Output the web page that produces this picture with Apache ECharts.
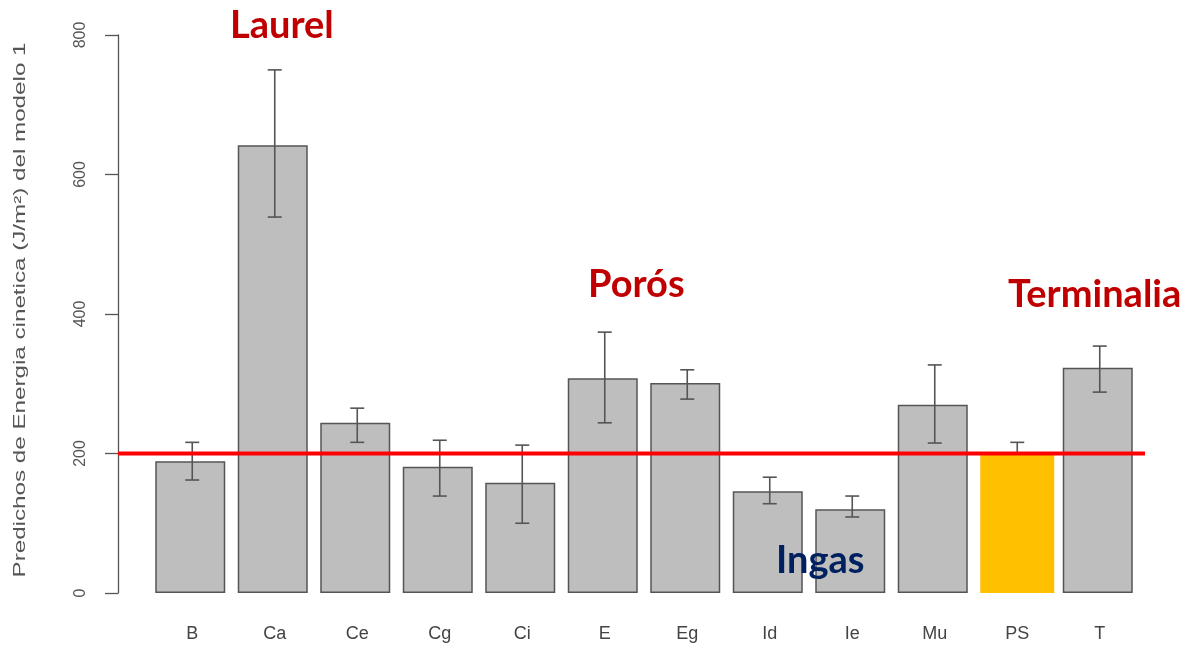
<!DOCTYPE html>
<html>
<head>
<meta charset="utf-8">
<script src="https://cdn.jsdelivr.net/npm/echarts@6/dist/echarts.min.js"></script>
<style>html,body{margin:0;padding:0;background:#fff;}#c{width:1194px;height:650px;}</style>
</head>
<body>
<div id="c"></div>
<script>
const categories = ['B','Ca','Ce','Cg','Ci','E','Eg','Id','Ie','Mu','PS','T'];
const predicted  = [189, 642, 244, 181, 158, 308, 301, 146, 120, 270, 198, 323];
const errLow     = [162, 539, 216, 139, 100, 244, 278, 128, 109, 215, 180, 288];
const errHigh    = [216, 750, 265, 219, 212, 374, 320, 166, 139, 327, 216, 354];
const highlight  = 'PS';
const refValue   = 200;
const yTicks     = [0, 200, 400, 600, 800];
const yAxisTitle = 'Predichos de Energia cinetica (J/m²) del modelo 1';

const grayBars = predicted.map((v, i) => categories[i] === highlight ? '-' : v);
const yellowBars = predicted.map((v, i) => categories[i] === highlight ? v : '-');
const errData = categories.map((c, i) => [i, errLow[i], errHigh[i]]);

const chart = echarts.init(document.getElementById('c'));
chart.setOption({
  animation: false,
  backgroundColor: '#ffffff',
  grid: { left: 151, right: 53, top: 35, bottom: 57 },
  xAxis: {
    type: 'category',
    data: categories,
    axisLine: { show: false },
    axisTick: { show: false },
    axisLabel: { margin: 32, fontFamily: 'Liberation Sans Narrow, Liberation Sans', fontSize: 18, color: '#444' }
  },
  yAxis: {
    type: 'value',
    min: yTicks[0], max: yTicks[yTicks.length - 1], interval: 200,
    offset: 33,
    splitLine: { show: false },
    axisLine: { show: true, lineStyle: { color: '#555', width: 1.3 } },
    axisTick: { show: true, length: 13, lineStyle: { color: '#555', width: 1.3 } },
    axisLabel: { rotate: 90, margin: 29, fontFamily: 'Liberation Sans', fontSize: 16, color: '#555' }
  },
  series: [
    {
      type: 'bar', data: grayBars, barWidth: 70, z: 2,
      itemStyle: { color: '#bebebe', borderColor: '#555', borderWidth: 1.5 }
    },
    {
      type: 'custom', z: 3,
      data: errData,
      renderItem: function (params, api) {
        const x = api.value(0);
        const lo = api.coord([x, api.value(1)]);
        const hi = api.coord([x, api.value(2)]);
        const cap = 7;
        const st = { stroke: '#555', lineWidth: 1.6 };
        return { type: 'group', children: [
          { type: 'line', shape: { x1: lo[0], y1: lo[1], x2: hi[0], y2: hi[1] }, style: st },
          { type: 'line', shape: { x1: lo[0]-cap, y1: lo[1], x2: lo[0]+cap, y2: lo[1] }, style: st },
          { type: 'line', shape: { x1: hi[0]-cap, y1: hi[1], x2: hi[0]+cap, y2: hi[1] }, style: st }
        ]};
      }
    },
    {
      type: 'bar', data: yellowBars, barWidth: 74, barGap: '-100%', z: 4,
      itemStyle: { color: '#ffc000' }
    }
  ]
});

// reference line and axis title, positioned via the library's scale
const refY = chart.convertToPixel({ yAxisIndex: 0 }, refValue);
const midY = chart.convertToPixel({ yAxisIndex: 0 }, (yTicks[0] + yTicks[yTicks.length - 1]) / 2);
const titleFont = '16px "Liberation Sans", Arial, sans-serif';
const ctx = document.createElement('canvas').getContext('2d');
ctx.font = titleFont;
const titleScale = 535 / ctx.measureText(yAxisTitle).width;
const annFont = 'bold 38px Lato, "Open Sans", sans-serif';

chart.setOption({
  graphic: [
    { type: 'line', z: 50, silent: true, shape: { x1: 118, y1: refY, x2: 1145, y2: refY }, style: { stroke: '#ff0000', lineWidth: 4 } },
    { type: 'text', z: 50, x: 21, y: midY - 4, rotation: Math.PI / 2, scaleX: titleScale,
      style: { text: yAxisTitle, fill: '#555', font: titleFont, textAlign: 'center', textVerticalAlign: 'middle' } },
    { type: 'text', z: 100, left: 230, top: 7, style: { text: 'Laurel', fill: '#c00000', font: annFont } },
    { type: 'text', z: 100, left: 588, top: 266, style: { text: 'Porós', fill: '#c00000', font: annFont } },
    { type: 'text', z: 100, left: 1008, top: 276, style: { text: 'Terminalia', fill: '#c00000', font: annFont } },
    { type: 'text', z: 100, left: 776, top: 542, style: { text: 'Ingas', fill: '#002060', font: annFont } }
  ]
});
</script>
</body>
</html>
